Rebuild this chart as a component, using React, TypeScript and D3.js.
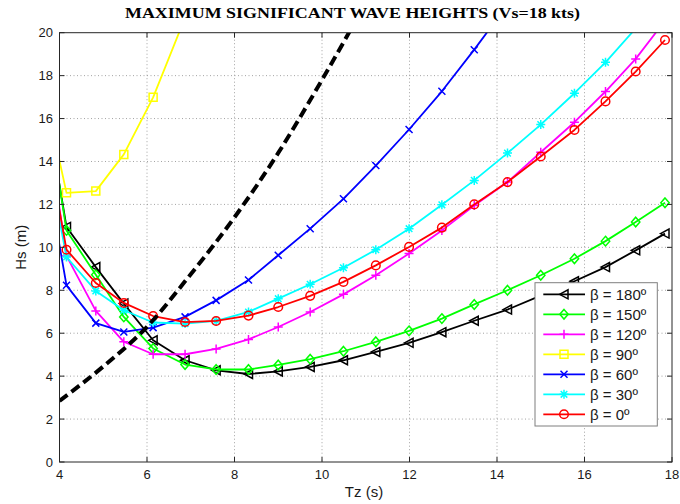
import React from 'react';
import * as d3 from 'd3';

// Zero-crossing wave period (s) at which each heading was evaluated
const tz = [3.5, 4.16, 4.83, 5.47, 6.14, 6.87, 7.58, 8.32, 9.0, 9.73, 10.49, 11.23, 11.99, 12.74, 13.48, 14.24, 15.0, 15.77, 16.48, 17.17, 17.84];

// Maximum significant wave height (m) per heading β
const hs180 = [19.0, 10.95, 9.08, 7.38, 5.67, 4.74, 4.27, 4.1, 4.22, 4.43, 4.74, 5.13, 5.55, 6.05, 6.58, 7.1, 7.75, 8.42, 9.08, 9.86, 10.64];
const hs150 = [19.4, 10.79, 8.72, 6.76, 5.29, 4.54, 4.31, 4.31, 4.52, 4.79, 5.16, 5.6, 6.11, 6.68, 7.34, 8.0, 8.7, 9.47, 10.29, 11.18, 12.08];
const hs120 = [18.7, 9.6, 7.04, 5.6, 5.02, 5.02, 5.27, 5.71, 6.29, 6.99, 7.81, 8.7, 9.71, 10.79, 11.95, 13.04, 14.43, 15.83, 17.26, 18.78, 20.56];
const hs90 = [18.7, 12.54, 12.62, 14.33, 16.99, 20.7];
const hs60 = [15.9, 8.23, 6.47, 6.06, 6.26, 6.76, 7.53, 8.48, 9.63, 10.87, 12.26, 13.81, 15.49, 17.27, 19.21, 21.3];
const hs30 = [16.6, 9.55, 7.97, 7.07, 6.5, 6.45, 6.57, 6.99, 7.61, 8.28, 9.05, 9.89, 10.87, 11.98, 13.12, 14.39, 15.72, 17.18, 18.62, 20.2];
const hs0 = [17.4, 9.89, 8.34, 7.41, 6.8, 6.52, 6.57, 6.82, 7.22, 7.74, 8.39, 9.16, 10.02, 10.92, 12.0, 13.04, 14.23, 15.47, 16.8, 18.19, 19.66];

// Limiting curve (dashed)
const limitTz = [4, 5, 6, 7, 8, 9, 10, 11];
const limitHs = [2.85, 4.45, 6.3, 8.75, 11.4, 14.4, 17.8, 21.4];

const xTicks = [4, 6, 8, 10, 12, 14, 16, 18];
const yTicks = [0, 2, 4, 6, 8, 10, 12, 14, 16, 18, 20];

const labels = ['β = 180º', 'β = 150º', 'β = 120º', 'β = 90º', 'β = 60º', 'β = 30º', 'β = 0º'];
const seriesValues = [hs180, hs150, hs120, hs90, hs60, hs30, hs0];
const colors = ['#000000', '#00ff00', '#ff00ff', '#ffff00', '#0000ff', '#00ffff', '#ff0000'];
const markers = ['triangleLeft', 'diamond', 'plus', 'square', 'cross', 'asterisk', 'circle'];

const W = 680;
const H = 504;
const plot = { left: 59.5, right: 672, top: 32.7, bottom: 462 };

function markerPath(kind: string): string {
  switch (kind) {
    case 'triangleLeft':
      return 'M-4.5,0L4,-4.5L4,4.5Z';
    case 'diamond':
      return 'M0,-4.8L4.2,0L0,4.8L-4.2,0Z';
    case 'plus':
      return 'M-4.5,0L4.5,0M0,-4.5L0,4.5';
    case 'square':
      return 'M-4,-4L4,-4L4,4L-4,4Z';
    case 'cross':
      return 'M-3.5,-3.5L3.5,3.5M-3.5,3.5L3.5,-3.5';
    case 'asterisk':
      return 'M-4.5,0L4.5,0M0,-4.5L0,4.5M-3.3,-3.3L3.3,3.3M-3.3,3.3L3.3,-3.3';
    default:
      return 'M4.3,0A4.3,4.3 0 1 1 -4.3,0A4.3,4.3 0 1 1 4.3,0Z';
  }
}

export default function App() {
  const x = d3.scaleLinear().domain([4, 18]).range([plot.left, plot.right]);
  const y = d3.scaleLinear().domain([0, 20]).range([plot.bottom, plot.top]);

  const line = d3
    .line<[number, number]>()
    .x((d) => x(d[0]))
    .y((d) => y(d[1]));

  const smooth = d3
    .line<[number, number]>()
    .x((d) => x(d[0]))
    .y((d) => y(d[1]))
    .curve(d3.curveMonotoneX);

  const series = seriesValues.map((vals, i) => ({
    label: labels[i],
    color: colors[i],
    marker: markers[i],
    points: vals.map((v, j) => [tz[j], v] as [number, number]),
  }));

  const limitPoints = limitTz.map((t, i) => [t, limitHs[i]] as [number, number]);

  const axisColor = '#262626';
  const tickLen = 5;
  const sansFont = 'Liberation Sans, Arial, sans-serif';

  const legend = { x: 535, y: 282.7, w: 122.3, h: 143.3, row: 20, first: 11.6 };

  return (
    <svg
      width={W}
      height={H}
      style={{ position: 'absolute', left: 0, top: 0, background: '#ffffff' }}
    >
      <defs>
        <clipPath id="plot-area">
          <rect x={plot.left} y={plot.top} width={plot.right - plot.left} height={plot.bottom - plot.top} />
        </clipPath>
      </defs>

      <rect x={0} y={0} width={W} height={H} fill="#ffffff" />

      {/* grid */}
      <g stroke="#8c8c8c" strokeWidth={0.8} strokeDasharray="1,2.5">
        {xTicks.slice(1, -1).map((t) => (
          <line key={`gx${t}`} x1={x(t)} x2={x(t)} y1={plot.top} y2={plot.bottom} />
        ))}
        {yTicks.slice(1, -1).map((t) => (
          <line key={`gy${t}`} x1={plot.left} x2={plot.right} y1={y(t)} y2={y(t)} />
        ))}
      </g>

      {/* data */}
      <g clipPath="url(#plot-area)">
        {series.map((s) => (
          <g key={s.label}>
            <path d={line(s.points) || ''} fill="none" stroke={s.color} strokeWidth={1.8} strokeLinejoin="round" />
            {s.points.map((p, j) => (
              <path
                key={j}
                d={markerPath(s.marker)}
                transform={`translate(${x(p[0])},${y(p[1])})`}
                fill="none"
                stroke={s.color}
                strokeWidth={1.5}
              />
            ))}
          </g>
        ))}
        <path d={smooth(limitPoints) || ''} fill="none" stroke="#000000" strokeWidth={4} strokeDasharray="10,5" />
      </g>

      {/* frame and ticks */}
      <rect
        x={plot.left}
        y={plot.top}
        width={plot.right - plot.left}
        height={plot.bottom - plot.top}
        fill="none"
        stroke={axisColor}
        strokeWidth={1}
      />
      <g stroke={axisColor} strokeWidth={1}>
        {xTicks.map((t) => (
          <g key={`tx${t}`}>
            <line x1={x(t)} x2={x(t)} y1={plot.bottom} y2={plot.bottom - tickLen} />
            <line x1={x(t)} x2={x(t)} y1={plot.top} y2={plot.top + tickLen} />
          </g>
        ))}
        {yTicks.map((t) => (
          <g key={`ty${t}`}>
            <line x1={plot.left} x2={plot.left + tickLen} y1={y(t)} y2={y(t)} />
            <line x1={plot.right} x2={plot.right - tickLen} y1={y(t)} y2={y(t)} />
          </g>
        ))}
      </g>

      {/* tick labels */}
      <g fontFamily={sansFont} fontSize={13} fill="#1a1a1a">
        {xTicks.map((t) => (
          <text key={`lx${t}`} x={x(t)} y={479} textAnchor="middle">
            {t}
          </text>
        ))}
        {yTicks.map((t) => (
          <text key={`ly${t}`} x={53} y={y(t)} textAnchor="end" dominantBaseline="central">
            {t}
          </text>
        ))}
      </g>

      {/* axis titles */}
      <text x={364} y={497} textAnchor="middle" fontFamily={sansFont} fontSize={15} fill="#1a1a1a">
        Tz (s)
      </text>
      <text
        transform={`translate(26,${(plot.top + plot.bottom) / 2}) rotate(-90)`}
        textAnchor="middle"
        fontFamily={sansFont}
        fontSize={15}
        fill="#1a1a1a"
      >
        Hs (m)
      </text>

      {/* title */}
      <text
        x={352.5}
        y={18}
        textAnchor="middle"
        fontFamily="Liberation Serif, Times New Roman, serif"
        fontWeight="bold"
        fontSize={15}
        textLength={455}
        lengthAdjust="spacingAndGlyphs"
        fill="#000000"
      >
        MAXIMUM SIGNIFICANT WAVE HEIGHTS (Vs=18 kts)
      </text>

      {/* legend */}
      <g>
        <rect x={legend.x} y={legend.y} width={legend.w} height={legend.h} fill="#ffffff" stroke="#7f7f7f" strokeWidth={1} />
        {series.map((s, i) => {
          const ly = legend.y + legend.first + i * legend.row;
          return (
            <g key={`leg${i}`}>
              <line x1={543.3} x2={585} y1={ly} y2={ly} stroke={s.color} strokeWidth={1.8} />
              <path d={markerPath(s.marker)} transform={`translate(564,${ly})`} fill="none" stroke={s.color} strokeWidth={1.5} />
              <text x={590} y={ly} dominantBaseline="central" fontFamily={sansFont} fontSize={15} fill="#1a1a1a">
                {s.label}
              </text>
            </g>
          );
        })}
      </g>
    </svg>
  );
}
